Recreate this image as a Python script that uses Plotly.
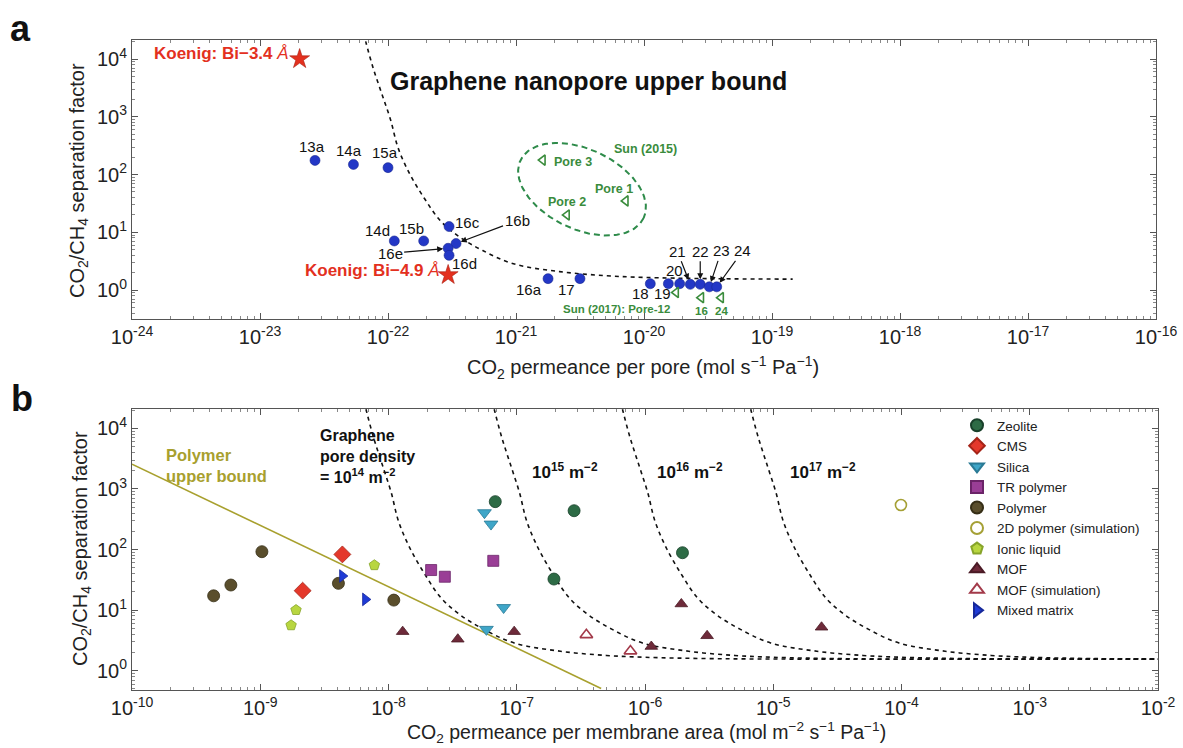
import numpy as np
import plotly.graph_objects as go

W, H = 1183, 748
FONT = "Liberation Sans, Arial, Helvetica, sans-serif"

# ---------------- Panel a data (per-pore permeance, mol s^-1 Pa^-1) ----------------
a_labels = ["13a", "14a", "15a", "14d", "15b", "16c", "16b", "16e", "16d",
            "16a", "17", "18", "19", "20", "21", "22", "23", "24"]
a_perm = [2.69e-23, 5.37e-23, 1.0e-22, 1.12e-22, 1.9e-22, 3.0e-22, 3.4e-22, 2.95e-22, 3.0e-22,
          1.78e-21, 3.16e-21, 1.12e-20, 1.55e-20, 1.9e-20, 2.3e-20, 2.75e-20, 3.24e-20, 3.7e-20]
a_sel = [176, 150, 132, 7.1, 7.1, 12.6, 6.4, 5.3, 4.0,
         1.58, 1.58, 1.29, 1.29, 1.29, 1.26, 1.26, 1.14, 1.14]

koenig_labels = ["Koenig: Bi\u22123.4", "Koenig: Bi\u22124.9"]
koenig_perm = [2.04e-23, 2.95e-22]
koenig_sel = [1.0e4, 1.83]

sun15_labels = ["Pore 3", "Pore 1", "Pore 2"]
sun15_perm = [1.62e-21, 7.2e-21, 2.5e-21]
sun15_sel = [178, 35, 20]

sun17_labels = ["Sun (2017): Pore-12", "16", "24"]
sun17_perm = [1.78e-20, 2.8e-20, 4.0e-20]
sun17_sel = [0.91, 0.74, 0.74]

# graphene nanopore upper bound
bound_perm = [6.46e-23, 6.76e-23, 7.67e-23, 8.91e-23, 1.047e-22, 1.20e-22, 1.48e-22, 1.91e-22,
              2.57e-22, 3.63e-22, 5.50e-22, 9.55e-22, 2.19e-21, 5.0e-21, 1.0e-20, 3.16e-20, 1.45e-19]
bound_sel = [28000, 18600, 6900, 2570, 890, 288, 102, 39.8,
             15.8, 8.3, 4.84, 2.86, 2.09, 1.78, 1.66, 1.58, 1.55]

# ---------------- Panel b data (per-area permeance, mol m^-2 s^-1 Pa^-1) ----------------
zeolite_x = [6.8e-8, 2.8e-7, 1.95e-7, 1.96e-6]
zeolite_y = [617, 437, 32.5, 88.5]
cms_x = [2.14e-9, 4.37e-9]
cms_y = [20.9, 83]
silica_x = [5.6e-8, 6.3e-8, 7.9e-8, 5.8e-8]
silica_y = [405, 263, 11, 4.8]
trpoly_x = [2.15e-8, 2.75e-8, 6.56e-8]
trpoly_y = [45.8, 35.5, 65]
polymer_x = [4.33e-10, 5.9e-10, 1.03e-9, 4.07e-9, 1.1e-8]
polymer_y = [17.2, 25.9, 92, 27.6, 14.6]
poly2d_x = [9.9e-5]
poly2d_y = [544]
ionic_x = [1.74e-9, 1.9e-9, 7.76e-9]
ionic_y = [5.6, 10, 55]
mof_x = [1.29e-8, 3.47e-8, 9.55e-8, 1.12e-6, 1.92e-6, 3.05e-6, 2.38e-5]
mof_y = [4.4, 3.3, 4.4, 2.5, 12.6, 3.76, 5.2]
mofsim_x = [3.49e-7, 7.7e-7]
mofsim_y = [3.9, 2.1]
mixed_x = [4.37e-9, 6.6e-9]
mixed_y = [36.5, 15]

polymer_bound_x = [1e-10, 4.55e-7]
polymer_bound_y = [2570, 0.508]

pore_densities = [1e14, 1e15, 1e16, 1e17]
density_exps = [14, 15, 16, 17]
b_right_end = 1e-2

a_xticks = list(range(-24, -15))
a_yticks = list(range(0, 5))
b_xticks = list(range(-10, -1))
b_yticks = list(range(0, 5))

# ---------------- layout geometry (pixels) ----------------
A_BOX = (132, 1156, 40, 319)   # left, right, top, bottom
B_BOX = (132, 1158, 409, 690)
A_XR, A_YR = [-24, -16], [-0.5, 4.33]
B_XR, B_YR = [-10, -2], [-0.32, 4.32]


def px(x):
    return x / W


def py(y):
    return 1 - y / H


def axis(box, rng, ticks, horiz, anchor):
    lo, hi = (box[0], box[1]) if horiz else (box[3], box[2])
    dom = [px(lo), px(hi)] if horiz else [py(lo), py(hi)]
    return dict(type="log", range=rng, domain=dom, anchor=anchor,
                tickmode="array", tickvals=[10.0 ** e for e in ticks],
                ticktext=[f"10<sup>{e}</sup>" for e in ticks],
                showline=True, linecolor="#555", linewidth=1, mirror="allticks",
                ticks="inside", ticklen=6, tickwidth=1, tickcolor="#555",
                minor=dict(ticks="inside", ticklen=3, tickwidth=1, tickcolor="#888", dtick="D1"),
                showgrid=False, zeroline=False, automargin=False,
                tickfont=dict(family=FONT, size=20, color="#222"))


fig = go.Figure()

# ---------------- panel a traces ----------------
fig.add_trace(go.Scatter(x=bound_perm, y=bound_sel, mode="lines", line_shape="spline",
                         line=dict(color="#111", width=1.6, dash="4px,4px"),
                         xaxis="x", yaxis="y", showlegend=False, hoverinfo="skip"))

# Sun (2015) ellipse (decorative outline)
ell_c_perm, ell_c_sel = 3.28e-21, 55.8
ell_a_px, ell_b_px, ell_ang = 68, 40, np.deg2rad(25)
x_ppd = (A_BOX[1] - A_BOX[0]) / (A_XR[1] - A_XR[0])
y_ppd = (A_BOX[3] - A_BOX[2]) / (A_YR[1] - A_YR[0])
t = np.linspace(0, 2 * np.pi, 200)
dxp = ell_a_px * np.cos(t) * np.cos(ell_ang) - ell_b_px * np.sin(t) * np.sin(ell_ang)
dyp = ell_a_px * np.cos(t) * np.sin(ell_ang) + ell_b_px * np.sin(t) * np.cos(ell_ang)
fig.add_trace(go.Scatter(x=10 ** (np.log10(ell_c_perm) + dxp / x_ppd),
                         y=10 ** (np.log10(ell_c_sel) - dyp / y_ppd),
                         mode="lines", line=dict(color="#2E8B4A", width=2, dash="6px,4px"),
                         xaxis="x", yaxis="y", showlegend=False, hoverinfo="skip"))

fig.add_trace(go.Scatter(x=a_perm, y=a_sel, mode="markers",
                         marker=dict(symbol="circle", size=10, color="#2337C6",
                                     line=dict(color="#1A2890", width=0.6)),
                         xaxis="x", yaxis="y", showlegend=False))
fig.add_trace(go.Scatter(x=koenig_perm, y=koenig_sel, mode="markers",
                         marker=dict(symbol="star", size=15, color="#E3301E",
                                     line=dict(color="#A81E10", width=0.6)),
                         xaxis="x", yaxis="y", showlegend=False))
fig.add_trace(go.Scatter(x=sun15_perm + sun17_perm, y=sun15_sel + sun17_sel, mode="markers",
                         marker=dict(symbol="triangle-left-open", size=9, color="#3A8C3C",
                                     line=dict(color="#3A8C3C", width=1.6)),
                         xaxis="x", yaxis="y", showlegend=False))

# ---------------- panel b traces ----------------
for d in pore_densities:
    fig.add_trace(go.Scatter(x=[p * d for p in bound_perm] + [b_right_end],
                             y=bound_sel + [bound_sel[-1]], mode="lines", line_shape="spline",
                             line=dict(color="#111", width=1.6, dash="4px,4px"),
                             xaxis="x2", yaxis="y2", showlegend=False, hoverinfo="skip"))

fig.add_trace(go.Scatter(x=polymer_bound_x, y=polymer_bound_y, mode="lines",
                         line=dict(color="#A8A02E", width=1.6),
                         xaxis="x2", yaxis="y2", showlegend=False, hoverinfo="skip"))

classes = [
    ("Zeolite", zeolite_x, zeolite_y, "circle", "#2D6B45", "#18402A", 12),
    ("CMS", cms_x, cms_y, "diamond", "#E4382B", "#A52418", 13),
    ("Silica", silica_x, silica_y, "triangle-down", "#3FA6C8", "#2A7A95", 12),
    ("TR polymer", trpoly_x, trpoly_y, "square", "#9A3E96", "#6B2468", 11),
    ("Polymer", polymer_x, polymer_y, "circle", "#5A4E2C", "#362E16", 12),
    ("2D polymer (simulation)", poly2d_x, poly2d_y, "circle-open", "#A5A035", "#A5A035", 11),
    ("Ionic liquid", ionic_x, ionic_y, "pentagon", "#B8D640", "#87A42A", 11),
    ("MOF", mof_x, mof_y, "triangle-up", "#6E2A3A", "#4A1A25", 11),
    ("MOF (simulation)", mofsim_x, mofsim_y, "triangle-up-open", "#A33A4A", "#A33A4A", 11),
    ("Mixed matrix", mixed_x, mixed_y, "triangle-right", "#1F3BD6", "#16289A", 11),
]
for name, xs, ys, sym, col, lcol, sz in classes:
    lw = 1.6 if sym.endswith("open") else 0.8
    fig.add_trace(go.Scatter(x=xs, y=ys, mode="markers", name=name,
                             marker=dict(symbol=sym, size=sz, color=col,
                                         line=dict(color=lcol, width=lw)),
                             xaxis="x2", yaxis="y2"))

# ---------------- annotations ----------------
ann = []


def free_text(text, x, y, size, color="#111", bold=False, xanchor="left", angle=0, align="left"):
    ann.append(dict(text=f"<b>{text}</b>" if bold else text, x=px(x), y=py(y), xref="paper",
                    yref="paper", xanchor=xanchor, yanchor="middle", showarrow=False,
                    textangle=angle, align=align, font=dict(family=FONT, size=size, color=color)))


free_text("a", 8, 28, 36, "#111", True)
free_text("b", 9, 398, 36, "#111", True)
free_text("Graphene nanopore upper bound", 388, 81, 25, "#111", True)
free_text("CO<sub>2</sub>/CH<sub>4</sub> separation factor", 79, 181, 20, "#222", False, "center", -90)
free_text("CO<sub>2</sub>/CH<sub>4</sub> separation factor", 81, 549, 20, "#222", False, "center", -90)
free_text("CO<sub>2</sub> permeance per pore (mol s<sup>\u22121</sup> Pa<sup>\u22121</sup>)",
          643, 367, 20, "#222", False, "center")
free_text("CO<sub>2</sub> permeance per membrane area (mol m<sup>\u22122</sup> s<sup>\u22121</sup> Pa<sup>\u22121</sup>)",
          646, 732, 19.5, "#222", False, "center")
free_text("Sun (2015)", 612, 149, 12.5, "#3A8C3C", True)

# panel b text
free_text("Polymer<br>upper bound", 164, 465, 16.5, "#A8A02E", True)
free_text(f"Graphene<br>pore density<br>= 10<sup>{density_exps[0]}</sup> m<sup>\u22122</sup>",
          318, 456, 16, "#111", True)
for e, xl in zip(density_exps[1:], [530, 655, 788]):
    free_text(f"10<sup>{e}</sup> m<sup>\u22122</sup>", xl, 471, 17, "#111", True)

# point labels in panel a
a_label_offsets = {"13a": (-3, 14), "14a": (-4, 14), "15a": (-3, 15), "14d": (-17, 10),
                   "15b": (-12, 12), "16c": (18, 4), "16d": (15, -8), "16a": (-19, -11),
                   "17": (-13, -11), "18": (-10, -10), "19": (-6, -10), "20": (-5, 13)}
a_label_arrows = {"16b": (61, -23), "16e": (-58, 5), "21": (-13, -33), "22": (0, -33),
                  "23": (12, -36), "24": (26, -36)}
for lab, xv, yv in zip(a_labels, a_perm, a_sel):
    base = dict(x=np.log10(xv), y=np.log10(yv), xref="x", yref="y", text=lab,
                font=dict(family=FONT, size=15, color="#111"))
    if lab in a_label_offsets:
        dx, dy = a_label_offsets[lab]
        base.update(showarrow=False, xshift=dx, yshift=dy)
    else:
        dx, dy = a_label_arrows[lab]
        base.update(showarrow=True, ax=dx, ay=dy, arrowhead=2, arrowsize=1, arrowwidth=1.2,
                    arrowcolor="#111", standoff=5)
    ann.append(base)

# Koenig labels
for lab, xv, yv, dx, dy in zip(koenig_labels, koenig_perm, koenig_sel, [-9, -6], [6, 4]):
    ann.append(dict(x=np.log10(xv), y=np.log10(yv), xref="x", yref="y",
                    text=f"<b>{lab}</b> <i>\u00c5</i>", showarrow=False,
                    xanchor="right", xshift=dx, yshift=dy,
                    font=dict(family=FONT, size=17, color="#E3301E")))

# Sun labels
for lab, xv, yv, dx, dy, xa in zip(sun15_labels, sun15_perm, sun15_sel,
                                   [9, -12, 0], [-2, 12, 13], ["left", "center", "center"]):
    ann.append(dict(x=np.log10(xv), y=np.log10(yv), xref="x", yref="y", text=f"<b>{lab}</b>",
                    showarrow=False, xanchor=xa, xshift=dx, yshift=dy,
                    font=dict(family=FONT, size=12.5, color="#3A8C3C")))
for lab, xv, yv, dx, dy, xa in zip(sun17_labels, sun17_perm, sun17_sel,
                                   [-4, 0, 0], [-17, -13, -13], ["right", "center", "center"]):
    ann.append(dict(x=np.log10(xv), y=np.log10(yv), xref="x", yref="y", text=f"<b>{lab}</b>",
                    showarrow=False, xanchor=xa, xshift=dx, yshift=dy,
                    font=dict(family=FONT, size=11.5, color="#3A8C3C")))

fig.update_layout(
    width=W, height=H, margin=dict(l=0, r=0, t=0, b=0),
    paper_bgcolor="white", plot_bgcolor="white",
    xaxis=axis(A_BOX, A_XR, a_xticks, True, "y"),
    yaxis=axis(A_BOX, A_YR, a_yticks, False, "x"),
    xaxis2=axis(B_BOX, B_XR, b_xticks, True, "y2"),
    yaxis2=axis(B_BOX, B_YR, b_yticks, False, "x2"),
    annotations=ann,
    showlegend=True,
    legend=dict(x=px(957), y=py(410), xanchor="left", yanchor="top",
                bgcolor="rgba(0,0,0,0)", borderwidth=0, tracegroupgap=0,
                font=dict(family=FONT, size=13.5, color="#222"), itemsizing="constant"),
    font=dict(family=FONT),
)

fig.write_html("out.html")
